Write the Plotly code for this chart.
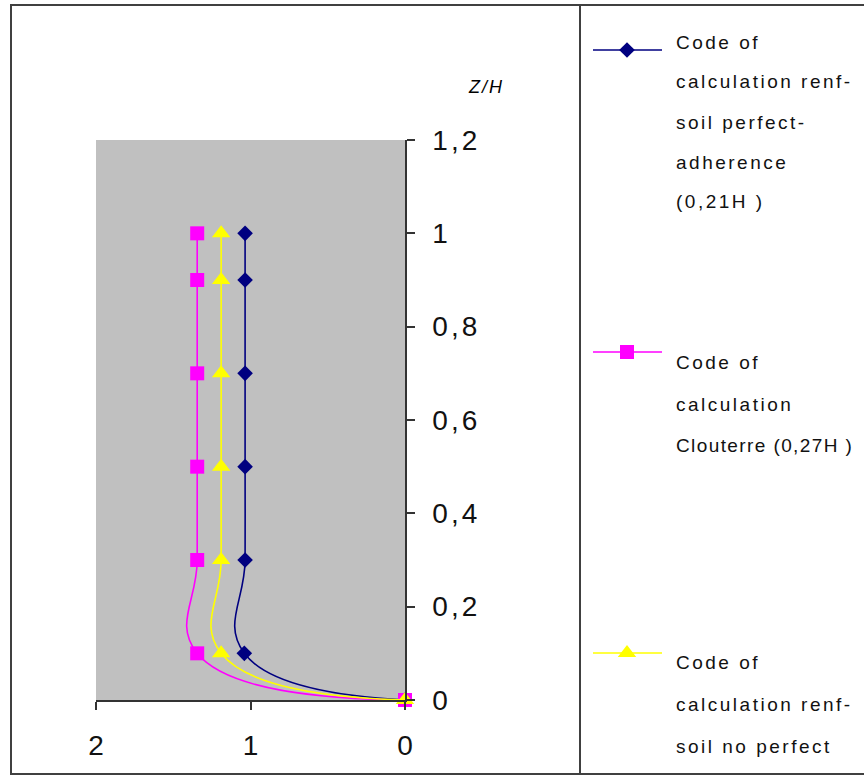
import plotly.graph_objects as go

# ---- data ----
z_over_h = [0, 0.1, 0.3, 0.5, 0.7, 0.9, 1.0]
perfect_adherence = [0, 1.04, 1.035, 1.035, 1.035, 1.035, 1.035]
clouterre = [0, 1.345, 1.345, 1.345, 1.345, 1.345, 1.345]
no_perfect = [0, 1.19, 1.19, 1.19, 1.19, 1.19, 1.19]

series_names = [
    "Code of calculation renf-soil perfect-adherence (0,21H )",
    "Code of calculation Clouterre (0,27H )",
    "Code of calculation renf-soil no perfect",
]
legend_lines = [
    ["Code of", "calculation renf-", "soil perfect-", "adherence", "(0,21H )"],
    ["Code of", "calculation", "Clouterre (0,27H )"],
    ["Code of", "calculation renf-", "soil no perfect"],
]
x_tick_vals = [2, 1, 0]
x_tick_text = ["2", "1", "0"]
y_tick_vals = [0, 0.2, 0.4, 0.6, 0.8, 1.0, 1.2]
y_tick_text = ["0", "0,2", "0,4", "0,6", "0,8", "1", "1,2"]
y_axis_title = "Z/H"

# ---- styling ----
W, H = 864, 776
FONT = "Liberation Sans, Arial, sans-serif"
colors = ["#000080", "#FF00FF", "#FFFF00"]
symbols = ["diamond", "square", "triangle-up"]
sizes = [12, 14, 16]
series_values = [perfect_adherence, clouterre, no_perfect]


def px(x):
    return x / W


def py(y):
    return 1 - y / H


def spaced(t, sp):
    return "<span style='letter-spacing:%spx'>%s</span>" % (sp, t)


fig = go.Figure()

for vals, name, col, sym, sz in zip(series_values, series_names, colors, symbols, sizes):
    fig.add_trace(go.Scatter(
        x=vals, y=z_over_h, name=name, mode="lines+markers",
        line=dict(color=col, width=1.6, shape="spline", smoothing=1.3),
        marker=dict(color=col, symbol=sym, size=sz, line=dict(width=0)),
        showlegend=False, cliponaxis=False,
    ))

# manual legend symbols on an overlay axis in pixel space
leg_sym_y = [50, 352, 653]
for col, sym, sz, yy in zip(colors, symbols, sizes, leg_sym_y):
    fig.add_trace(go.Scatter(
        x=[593, 627, 662], y=[yy, yy, yy], mode="lines",
        line=dict(color=col, width=1.6), xaxis="x2", yaxis="y2",
        showlegend=False, hoverinfo="skip",
    ))
    fig.add_trace(go.Scatter(
        x=[627], y=[yy], mode="markers",
        marker=dict(color=col, symbol=sym, size=sz, line=dict(width=0)),
        xaxis="x2", yaxis="y2", showlegend=False, hoverinfo="skip",
    ))

shapes = [
    # gray plot background
    dict(type="rect", xref="x", yref="y", x0=2, x1=0, y0=0, y1=1.2,
         fillcolor="#C0C0C0", line=dict(width=0), layer="below"),
    # outer border
    dict(type="rect", xref="paper", yref="paper", x0=px(11), x1=px(875), y0=py(5), y1=py(774),
         line=dict(color="#404040", width=2), fillcolor="rgba(0,0,0,0)"),
    # legend separator
    dict(type="line", xref="paper", yref="paper", x0=px(580), x1=px(580), y0=py(5), y1=py(774),
         line=dict(color="#404040", width=2)),
]

annotations = [
    dict(text="<i>" + spaced(y_axis_title, 2) + "</i>",
         xref="paper", yref="paper",
         x=px(486), y=py(87), xanchor="center", yanchor="middle", showarrow=False,
         font=dict(family=FONT, size=18, color="#000000")),
]
first_line_y = [42, 362, 662]
line_gaps = [40, 42, 42]
for lines, y0, gap in zip(legend_lines, first_line_y, line_gaps):
    for i, t in enumerate(lines):
        sp = 2.5 if len(t) <= 17 else 1.4
        annotations.append(dict(
            text=spaced(t, sp),
            xref="paper", yref="paper", x=px(674), y=py(y0 + i * gap),
            xanchor="left", yanchor="middle", showarrow=False,
            font=dict(family=FONT, size=19, color="#111111"),
        ))

fig.update_layout(
    template="none",
    width=W, height=H,
    margin=dict(l=0, r=0, t=0, b=0, pad=0, autoexpand=False),
    paper_bgcolor="white", plot_bgcolor="rgba(0,0,0,0)",
    showlegend=False,
    xaxis=dict(
        domain=[px(96), px(405)], range=[2, 0], showgrid=False, zeroline=False,
        automargin=False,
        tickmode="array", tickvals=x_tick_vals, ticktext=x_tick_text,
        ticks="outside", ticklen=8, tickwidth=1.5, tickcolor="#333333",
        showline=True, linecolor="#333333", linewidth=1.5,
        tickfont=dict(family=FONT, size=28, color="#111111"),
        ticklabelstandoff=12,
    ),
    yaxis=dict(
        domain=[py(700), py(140)], range=[0, 1.2], side="right", anchor="x",
        showgrid=False, zeroline=False, automargin=False,
        tickmode="array", tickvals=y_tick_vals,
        ticktext=[spaced(t, 3) for t in y_tick_text],
        ticks="outside", ticklen=8, tickwidth=1.5, tickcolor="#333333",
        showline=True, linecolor="#333333", linewidth=1.5,
        tickfont=dict(family=FONT, size=28, color="#111111"),
        ticklabelstandoff=12,
    ),
    xaxis2=dict(domain=[0, 1], range=[0, W], visible=False, anchor="y2",
                fixedrange=True, automargin=False),
    yaxis2=dict(domain=[0, 1], range=[H, 0], visible=False, anchor="x2",
                fixedrange=True, automargin=False),
    shapes=shapes,
    annotations=annotations,
)

fig.write_html("out.html")
